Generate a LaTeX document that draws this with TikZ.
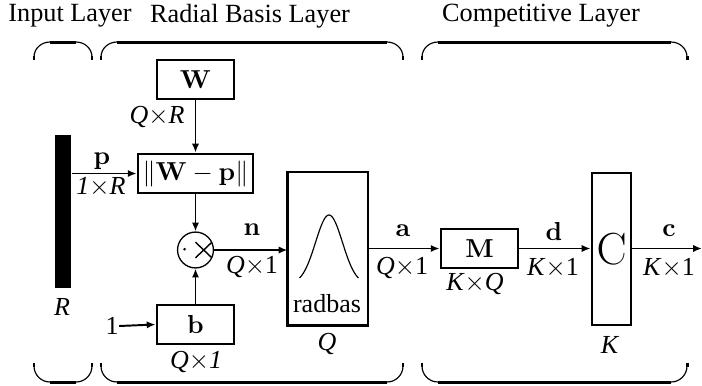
\documentclass[tikz,border=0pt]{standalone}
\usepackage[no-math]{fontspec}
\setmainfont{Liberation Serif}
\usetikzlibrary{arrows.meta}
\begin{document}
\begin{tikzpicture}[x=0.3846pt,y=-0.3846pt,
  blk/.style={draw,line width=1.1pt,inner sep=0pt,minimum width=29.6pt,minimum height=15pt},
  arr/.style={-{Latex[length=3.4pt,width=2.8pt]},line width=0.75pt},
  lbl/.style={inner sep=0pt},
  ttl/.style={inner sep=0pt,font=\fontsize{10.1}{12}\selectfont},
  thinarc/.style={line width=0.45pt},
  thickbar/.style={line width=1.15pt}]
\useasboundingbox (0,0) rectangle (702,385);

% titles
\node[ttl] (t1) at (70,16) {Input Layer};
\node[ttl] (t2) at (250,16) {Radial Basis Layer};
\node[ttl] (t3) at (541,16) {Competitive Layer};

% braces (top and bottom)
\foreach \a/\b in {34/92,101/403,422/687}{
  \draw[thinarc] (\a,57) to[out=90,in=180] ({\a+16},42);
  \draw[thickbar] ({\a+16},42) -- ({\b-16},42);
  \draw[thinarc] ({\b-16},42) to[out=0,in=90] (\b,57);
  \draw[thickbar] (\a,56) -- (\a,60);
  \draw[thickbar] (\b,56) -- (\b,60);
  \draw[thinarc] (\a,366) to[out=-90,in=180] ({\a+16},382);
  \draw[thickbar] ({\a+16},382) -- ({\b-16},382);
  \draw[thinarc] ({\b-16},382) to[out=0,in=-90] (\b,366);
  \draw[thickbar] (\a,363) -- (\a,367);
  \draw[thickbar] (\b,363) -- (\b,367);
}

% input bar
\node[fill=black,inner sep=0pt,minimum width=6.15pt,minimum height=58.8pt] (bar) at (63,211.5) {};
\node[lbl] (R) at (62,307) {\textit{R}};

% W box and ||W-p|| box
\node[blk] (W) at (195.5,79.5) {$\mathbf{W}$};
\node[lbl] (QR) at (157,117) {\textit{Q}$\times$\textit{R}};
\node[blk,minimum width=44.2pt] (wp) at (195.5,173.5) {$\|\mathbf{W}-\mathbf{p}\|$};
\draw[arr] (W.south) -- (wp.north);
\draw[arr] (bar.east |- wp.west) -- (wp.west);
\node[lbl] (p) at (102,161) {$\mathbf{p}$};
\node[lbl] (oneR) at (101,187) {\textit{1}$\times$\textit{R}};

% product circle
\node[draw,circle,line width=0.5pt,inner sep=0pt,minimum size=13.8pt] (prod) at (195.5,250) {};
\fill ([xshift=-4.2pt,yshift=0.3pt]prod.center) circle (0.55pt);
\draw[line width=0.55pt] ([xshift=0pt,yshift=3pt]prod.center) -- ([xshift=6.3pt,yshift=-3pt]prod.center);
\draw[line width=0.55pt] ([xshift=0pt,yshift=-3pt]prod.center) -- ([xshift=6.3pt,yshift=3pt]prod.center);
\draw[arr] (wp.south) -- (prod.north);

% bias
\node[blk] (b) at (195.5,324.5) {$\mathbf{b}$};
\node[lbl] (one) at (112,326) {1};
\draw[arr] (one.east) -- (b.west);
\draw[arr] (b.north) -- (prod.south);
\node[lbl] (Q1b) at (196,362) {\textit{Q}$\times$\textit{1}};

% radbas box
\node[inner sep=0pt,minimum width=30.4pt,minimum height=58.5pt] (rb) at (327.5,249) {};
\draw[line width=0.8pt] (rb.north west) rectangle (rb.south east);
\draw[line width=1.25pt] (rb.north west) -- ([yshift=-13.5pt]rb.north west);
\draw[line width=1.25pt] ([yshift=18pt]rb.south west) -- (rb.south west) -- (rb.south east);
\draw[line width=0.45pt] plot[domain=-1.55:1.55,samples=60,smooth] ({329+19*\x},{278-63*(exp(-\x*\x)-0.0905)/0.9095});
\node[lbl] (rbtxt) at (327,304) {radbas};
\node[lbl] (Qrb) at (327,344) {\textit{Q}};
\draw[arr] (prod.east) -- (rb.west |- prod.east);
\node[lbl] (n) at (252,230) {$\mathbf{n}$};
\node[lbl] (Q1n) at (252,267) {\textit{Q}$\times$1};

% M box
\node[blk] (M) at (479.5,248.5) {$\mathbf{M}$};
\node[lbl] (KQ) at (475,284) {\textit{K}$\times$\textit{Q}};
\draw[arr] (rb.east |- M.west) -- (M.west);
\node[lbl] (a) at (403,231) {$\mathbf{a}$};
\node[lbl] (Q1a) at (402,268) {\textit{Q}$\times$1};

% C box
\node[draw,line width=1.1pt,inner sep=0pt,minimum width=15pt,minimum height=58.5pt,font=\fontsize{16}{18}\selectfont] (C) at (611.5,249) {$\mathrm{C}$};
\node[lbl] (K) at (610,345) {\textit{K}};
\draw[arr] (M.east) -- (C.west |- M.east);
\node[lbl] (d) at (554,231) {$\mathbf{d}$};
\node[lbl] (K1d) at (553,268) {\textit{K}$\times$1};

% output
\coordinate (out) at (702,248.5);
\draw[arr] (C.east |- out) -- (out);
\node[lbl] (c) at (669,231) {$\mathbf{c}$};
\node[lbl] (K1c) at (669,268) {\textit{K}$\times$1};
\end{tikzpicture}
\end{document}
